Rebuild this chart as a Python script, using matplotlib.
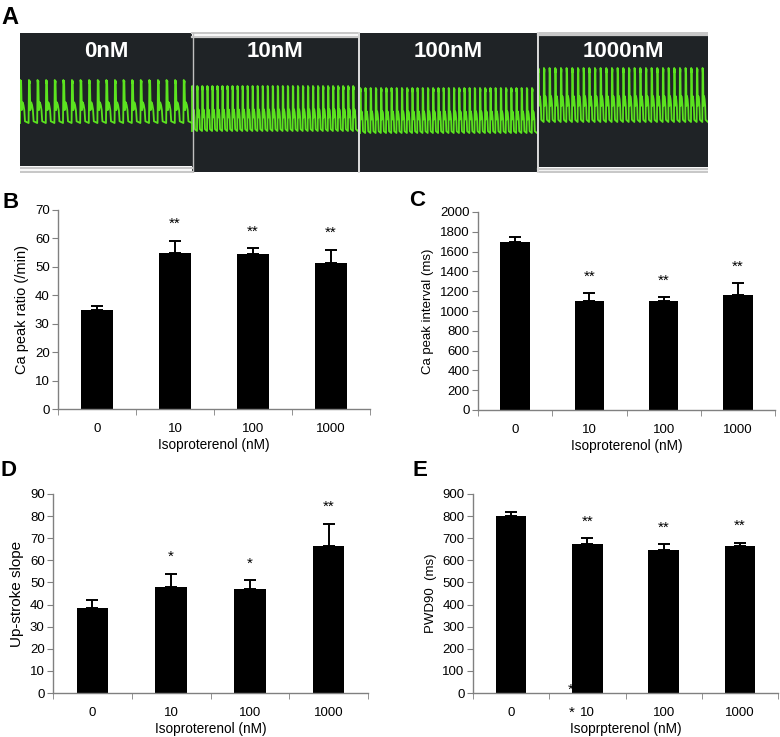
import numpy as np
import matplotlib
matplotlib.use("Agg")
import matplotlib.pyplot as plt
from matplotlib.patches import Rectangle

plt.rcParams['font.family'] = ['Liberation Sans', 'DejaVu Sans']

# ---------------- data ----------------
categories = ['0', '10', '100', '1000']

peak_ratio = [35, 55, 54.5, 51.5]
peak_ratio_err = [1.2, 4.2, 2.0, 4.5]
peak_ratio_sig = ['', '**', '**', '**']

peak_interval = [1700, 1100, 1100, 1160]
peak_interval_err = [50, 80, 40, 120]
peak_interval_sig = ['', '**', '**', '**']

upstroke = [38.5, 48, 47, 66.5]
upstroke_err = [3.7, 6, 4, 10]
upstroke_sig = ['', '*', '*', '**']

pwd90 = [800, 675, 645, 663]
pwd90_err = [20, 25, 27, 15]
pwd90_sig = ['', '**', '**', '**']

# panel A traces
trace_labels = ['0nM', '10nM', '100nM', '1000nM']
trace_beats = [20, 33, 34, 30]
trace_top = [80, 86, 88, 68]      # image rows (px)
trace_bottom = [123, 131, 133, 122]
seg_left = [20, 192, 360, 538]
seg_right = [192, 358, 537, 708]
seg_top = [33, 38, 33, 36]
seg_bottom = [166, 172, 172, 167]

# one-beat template (phase, relative level)
beat_phase = [0.0, 0.04, 0.09, 0.13, 0.20, 0.30, 0.40, 0.50, 0.58, 1.0]
beat_level = [0.0, 1.0, 0.92, 0.98, 0.30, 0.48, 0.42, 0.30, 0.04, 0.0]

W, H = 780, 737
fig = plt.figure(figsize=(W / 100, H / 100), dpi=100)

def fx(px):
    return px / W

def fy(py):
    return 1 - py / H

# ---------------- panel A ----------------
axA = fig.add_axes([fx(20), fy(173), fx(688), (173 - 32) / H])
axA.set_xlim(20, 708)
axA.set_ylim(173, 32)
axA.axis('off')
for i in range(4):
    l, r, t, b = seg_left[i], seg_right[i], seg_top[i], seg_bottom[i]
    axA.add_patch(Rectangle((l, t), r - l, b - t, facecolor='#1f2326',
                            edgecolor='none', zorder=1))
    n = trace_beats[i]
    period = (r - l) / n
    xs, ys = [], []
    for k in range(n):
        for ph, lv in zip(beat_phase, beat_level):
            xs.append(l + (k + ph) * period)
            ys.append(trace_bottom[i] - lv * (trace_bottom[i] - trace_top[i]))
    axA.plot(xs, ys, color='#5be31f', lw=1.3, zorder=3, clip_on=True)
    axA.text((l + r) / 2, 52, trace_labels[i], color='white', fontsize=16,
             fontweight='bold', ha='center', va='center',
             family=['Liberation Sans Narrow', 'Liberation Sans'], zorder=4)

# light gray separator lines
line_kw = dict(color='#c8c8c8', lw=1.6, zorder=5)
axA.plot([20, 192], [167.5, 167.5], **line_kw)
axA.plot([20, 192], [171.5, 171.5], **line_kw)
axA.plot([192, 358], [33.5, 33.5], **line_kw)
axA.plot([192, 358], [37.5, 37.5], **line_kw)
axA.plot([538, 708], [33.5, 33.5], **line_kw)
axA.plot([538, 708], [35.5, 35.5], **line_kw)
axA.plot([538, 708], [168.5, 168.5], **line_kw)
axA.plot([538, 708], [171.5, 171.5], **line_kw)
axA.plot([192.5, 192.5], [33, 172], color='#bfbfbf', lw=1.0, zorder=5)
axA.plot([359, 359], [33, 172], color='#d8d8d8', lw=1.4, zorder=5)
axA.plot([537.5, 537.5], [33, 172], color='#d8d8d8', lw=1.4, zorder=5)

fig.text(fx(10), fy(17), 'A', fontsize=17, fontweight='bold', va='center',
         ha='center', family=['Liberation Sans Narrow', 'Liberation Sans'])

# ---------------- bar panels ----------------
def bar_panel(rect, vals, errs, sig, ymax, ystep, ylabel, xlabel, letter,
              letter_xy, ylabel_size=9.5):
    ax = fig.add_axes(rect)
    x = np.arange(len(categories))
    ax.bar(x, vals, width=0.4, color='black', zorder=2)
    ax.errorbar(x, vals, yerr=[np.zeros(len(vals)), errs], fmt='none',
                ecolor='black', elinewidth=1.4, capsize=4.5, capthick=1.4, zorder=3)
    for xi, v, e, s in zip(x, vals, errs, sig):
        if s:
            ax.text(xi, v + e + 0.085 * ymax, s, ha='center', va='center',
                    fontsize=11)
    ax.set_xlim(-0.5, len(categories) - 0.5)
    ax.set_ylim(0, ymax)
    ax.set_yticks(np.arange(0, ymax + ystep / 2, ystep))
    ax.set_xticks(x)
    ax.set_xticklabels(categories)
    ax.set_xticks(np.arange(-0.5, len(categories)), minor=True)
    ax.tick_params(axis='x', which='major', length=0, labelsize=9.5, pad=10)
    ax.tick_params(axis='x', which='minor', length=4, color='#808080')
    ax.tick_params(axis='y', length=4, color='#808080', labelsize=9.5, pad=2)
    for sp in ['top', 'right']:
        ax.spines[sp].set_visible(False)
    for sp in ['left', 'bottom']:
        ax.spines[sp].set_color('#808080')
        ax.spines[sp].set_linewidth(1.0)
    ax.set_ylabel(ylabel, fontsize=ylabel_size, labelpad=4)
    ax.set_xlabel(xlabel, fontsize=9.8, labelpad=2)
    fig.text(fx(letter_xy[0]), fy(letter_xy[1]), letter, fontsize=16,
             fontweight='bold', ha='center', va='center')
    return ax

bar_panel([fx(58), fy(409), fx(370 - 58), (409 - 210) / H],
          peak_ratio, peak_ratio_err, peak_ratio_sig, 70, 10,
          'Ca peak ratio (/min)', 'Isoproterenol (nM)', 'B', (11, 203),
          ylabel_size=10.5)

bar_panel([fx(478), fy(410), fx(775 - 478), (410 - 212) / H],
          peak_interval, peak_interval_err, peak_interval_sig, 2000, 200,
          'Ca peak interval (ms)', 'Isoproterenol (nM)', 'C', (417, 200),
          ylabel_size=9.5)

bar_panel([fx(53), fy(693), fx(368 - 53), (693 - 494) / H],
          upstroke, upstroke_err, upstroke_sig, 90, 10,
          'Up-stroke slope', 'Isoproterenol (nM)', 'D', (9, 470),
          ylabel_size=11)

axE = bar_panel([fx(473), fy(693), fx(778 - 473), (693 - 494) / H],
                pwd90, pwd90_err, pwd90_sig, 900, 100,
                'PWD90  (ms)', 'Isoprpterenol (nM)', 'E', (420, 470),
                ylabel_size=9.5)

# stray asterisks present in the original figure
axE.text(0.78, 14, '*', ha='center', va='center', fontsize=11)
fig.text(fx(572), fy(713), '*', ha='center', va='center', fontsize=11)

fig.savefig('out.png', dpi=100)
